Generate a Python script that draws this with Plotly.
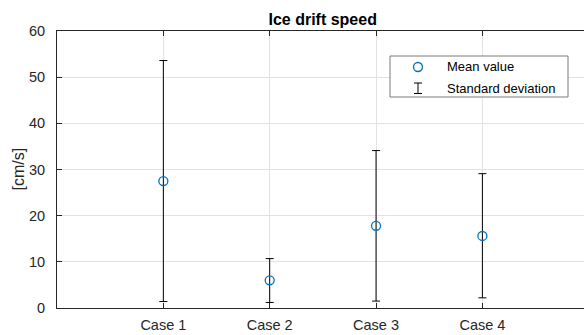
import plotly.graph_objects as go

# ---- data ----
cases = ["Case 1", "Case 2", "Case 3", "Case 4"]
case_pos = [1, 2, 3, 4]
mean_values = [27.5, 6.0, 17.8, 15.6]
upper_values = [53.6, 10.7, 34.1, 29.1]
lower_values = [1.4, 1.2, 1.5, 2.2]
y_ticks = [0, 10, 20, 30, 40, 50, 60]

err_plus = [u - m for u, m in zip(upper_values, mean_values)]
err_minus = [m - l for m, l in zip(mean_values, lower_values)]

W, H = 584, 335
ML, MR, MT, MB = 57, 0, 31, 27
PW, PH = W - ML - MR, H - MT - MB

def px(x):
    return (x - ML) / PW

def py(y):
    return (H - MB - y) / PH

FONT = "Liberation Sans, Arial, Helvetica, sans-serif"
AX = "#262626"
BLUE = "#0072BD"

fig = go.Figure()

# error bars (standard deviation)
fig.add_trace(go.Scatter(
    x=case_pos, y=mean_values, mode="markers",
    marker=dict(size=1, color="rgba(0,0,0,0)"),
    error_y=dict(type="data", symmetric=False, array=err_plus, arrayminus=err_minus,
                 color="#000000", thickness=1, width=4),
    showlegend=False, hoverinfo="skip"))

# mean values
fig.add_trace(go.Scatter(
    x=case_pos, y=mean_values, mode="markers",
    marker=dict(symbol="circle-open", size=9, color=BLUE, line=dict(color=BLUE, width=1.3)),
    showlegend=False))

shapes = []
annotations = []

# manual legend (MATLAB style)
shapes.append(dict(type="rect", xref="paper", yref="paper", layer="above",
                   x0=px(390), x1=px(568), y0=py(56), y1=py(97),
                   line=dict(color="#7a7a7a", width=1), fillcolor="white"))
shapes.append(dict(type="circle", xref="paper", yref="paper", layer="above",
                   x0=px(413.5), x1=px(422.5), y0=py(62.5), y1=py(71.5),
                   line=dict(color=BLUE, width=1.3)))
shapes.append(dict(type="line", xref="paper", yref="paper", layer="above",
                   x0=px(418), x1=px(418), y0=py(83), y1=py(93.5),
                   line=dict(color="#000000", width=1)))
for yy in (83, 93.5):
    shapes.append(dict(type="line", xref="paper", yref="paper", layer="above",
                       x0=px(414), x1=px(422), y0=py(yy), y1=py(yy),
                       line=dict(color="#000000", width=1)))
annotations.append(dict(text="Mean value", xref="paper", yref="paper",
                        x=px(445), y=py(67), xanchor="left", yanchor="middle",
                        showarrow=False, font=dict(family=FONT, size=13, color="#000000")))
annotations.append(dict(text="Standard deviation", xref="paper", yref="paper",
                        x=px(445), y=py(88), xanchor="left", yanchor="middle",
                        showarrow=False, font=dict(family=FONT, size=13, color="#000000")))

# y label
annotations.append(dict(text="[cm/s]", xref="paper", yref="paper",
                        x=px(18), y=py(169.5), xanchor="center", yanchor="middle",
                        textangle=-90, showarrow=False,
                        font=dict(family=FONT, size=16, color=AX)))

fig.update_layout(
    width=W, height=H,
    margin=dict(l=ML, r=MR, t=MT, b=MB, pad=0),
    paper_bgcolor="white", plot_bgcolor="white",
    font=dict(family=FONT, size=14.5, color=AX),
    title=dict(text="<b>Ice drift speed</b>", x=px(322.7), xref="paper", xanchor="center",
               y=1 - 19 / H, yref="container", yanchor="middle",
               font=dict(family=FONT, size=16, color="#000000")),
    shapes=shapes, annotations=annotations,
    showlegend=False,
    xaxis=dict(range=[0, PW / 106.35], tickvals=case_pos, ticktext=cases,
               showgrid=True, gridcolor="#e2e2e2", gridwidth=1, zeroline=False,
               showline=True, linecolor=AX, linewidth=1, mirror="ticks",
               ticks="inside", ticklen=5, tickcolor=AX, tickwidth=1,
               tickfont=dict(family=FONT, size=14.5, color=AX), ticklabelstandoff=4),
    yaxis=dict(range=[0, 60], tickvals=y_ticks,
               showgrid=True, gridcolor="#e2e2e2", gridwidth=1, zeroline=False,
               showline=True, linecolor=AX, linewidth=1, mirror=False,
               ticks="inside", ticklen=5, tickcolor=AX, tickwidth=1,
               tickfont=dict(family=FONT, size=14.5, color=AX), ticklabelstandoff=8),
)

fig.write_html("out.html")
